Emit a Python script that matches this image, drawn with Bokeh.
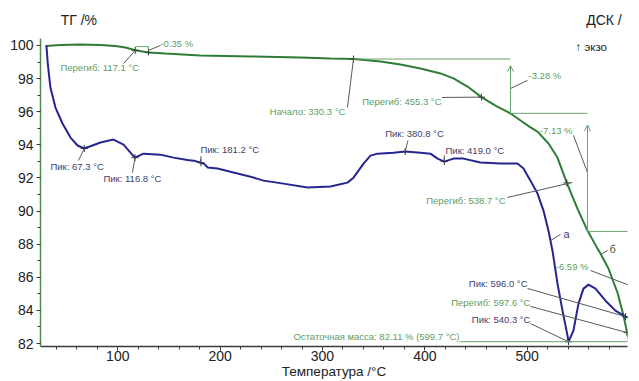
import numpy as np
from bokeh.plotting import figure
from bokeh.layouts import column
from bokeh.models import Range1d, SingleIntervalTicker, Label, Arrow, OpenHead
from bokeh.embed import file_html
from bokeh.resources import INLINE

# ---- TG curve: temperature (°C) vs. residual mass (%) ----
tg_temp = [29.4, 44.0, 63.6, 83.1, 97.8, 107.5, 117.1, 130.0, 146.6, 180.8,
           229.7, 278.5, 307.8, 330.3, 356.7, 376.2, 395.8, 415.3, 428.0, 441.7,
           455.3, 469.0, 483.7, 493.5, 503.2, 510.1, 520.8, 529.6, 538.7, 549.1,
           558.9, 568.7, 571.6, 579.4, 588.2, 594.1, 597.6, 599.7]
tg_mass = [99.97, 100.03, 100.06, 100.03, 99.97, 99.88, 99.71, 99.58, 99.52, 99.40,
           99.34, 99.27, 99.21, 99.18, 99.03, 98.85, 98.61, 98.31, 98.01, 97.52,
           96.88, 96.37, 95.89, 95.47, 95.05, 94.80, 94.08, 93.23, 91.70, 90.15,
           88.82, 87.73, 87.43, 86.53, 85.08, 83.69, 82.66, 82.11]

# ---- DSC curve (exo up), mW/mg ----
dsc_temp = [30.3, 31.6, 34.2, 39.1, 46.0, 53.8, 60.7, 67.3, 83.1, 95.8,
            105.6, 112.4, 116.8, 125.1, 141.7, 154.4, 168.1, 176.0, 181.2, 184.5,
            187.8, 197.4, 213.1, 229.7, 242.4, 261.9, 285.3, 307.8, 324.4, 330.3,
            340.1, 346.9, 353.8, 369.4, 380.8, 395.8, 405.5, 412.4, 419.0, 428.0,
            437.8, 454.4, 473.9, 490.5, 496.4, 503.2, 510.1, 515.9, 520.8, 524.7,
            529.6, 534.5, 539.4, 540.3, 545.2, 550.1, 555.0, 559.9, 566.7, 576.5,
            586.2, 596.0, 600.8]
dsc_val = [0.000, -0.109, -0.254, -0.375, -0.471, -0.556, -0.604, -0.622, -0.586, -0.568,
           -0.598, -0.647, -0.677, -0.653, -0.659, -0.677, -0.692, -0.698, -0.708, -0.715,
           -0.737, -0.743, -0.767, -0.792, -0.816, -0.834, -0.858, -0.852, -0.828, -0.798,
           -0.713, -0.665, -0.653, -0.647, -0.640, -0.647, -0.653, -0.683, -0.701, -0.683,
           -0.683, -0.707, -0.713, -0.713, -0.743, -0.816, -0.894, -0.997, -1.118, -1.239,
           -1.438, -1.601, -1.752, -1.789, -1.722, -1.559, -1.468, -1.444, -1.468, -1.541,
           -1.601, -1.637, -1.650]

# ---- evaluated points ----
dsc_peaks = [67.3, 116.8, 181.2, 380.8, 419.0, 540.3, 596.0]
tg_inflections = [117.1, 455.3, 538.7, 597.6]
tg_onset = 330.3
residual_mass = 82.11
residual_temp = 599.7

# mass steps (%) and the level each series of steps starts from
step_small = 0.35
step_small_top = 99.93
steps = [3.28, 7.13, 6.59]
steps_top = 99.18

# axis tick spacing
x_tick_step = 100
y_tick_step = 2

TG_COLOR = "#2f7d34"
DSC_COLOR = "#25258f"
TG_TEXT = "#5d9d5f"
DSC_TEXT = "#40406a"
LEADER = "#555a55"
STEP = "#6aa36c"
INK = "#222222"
FONT = "Liberation Sans"

# ---- header strip holding the two axis titles ----
head = figure(width=639, height=38, output_backend="svg", toolbar_location=None,
              x_range=Range1d(0, 639), y_range=Range1d(0, 38),
              x_axis_location=None, y_axis_location=None,
              min_border=0, min_border_left=0, min_border_right=0,
              min_border_top=0, min_border_bottom=0)
head.title.visible = False
head.outline_line_color = None
head.xgrid.visible = False
head.ygrid.visible = False
head.add_layout(Label(x=22, y=19, text="ТГ /%", text_color=INK, text_font=FONT,
                      text_font_size="14px", text_baseline="middle"))
head.add_layout(Label(x=594, y=19, text="ДСК /", text_color=INK, text_font=FONT,
                      text_font_size="14px", text_baseline="middle"))

# ---- main plot ----
p = figure(width=639, height=343, output_backend="svg", toolbar_location=None,
           x_range=Range1d(24.5, 598.0), y_range=Range1d(81.82, 100.42),
           min_border_left=40, min_border_right=12, min_border_top=0,
           min_border_bottom=35)
p.title.visible = False
p.extra_y_ranges = {"dsc": Range1d(-1.8176, 0.0423)}
p.outline_line_color = None
p.xgrid.visible = False
p.ygrid.visible = False

xa = p.xaxis[0]
xa.ticker = SingleIntervalTicker(interval=x_tick_step, num_minor_ticks=5)
xa.axis_line_color = "#3a3a3a"
xa.axis_line_width = 1.5
xa.major_tick_line_color = "#3a3a3a"
xa.minor_tick_line_color = "#3a3a3a"
xa.major_tick_out = 4
xa.major_tick_in = 0
xa.minor_tick_out = 3
xa.minor_tick_in = 0
xa.major_label_standoff = 0
xa.major_label_text_font = FONT
xa.major_label_text_font_size = "14px"
xa.major_label_text_color = INK
xa.axis_label = "Температура /°C"
xa.axis_label_standoff = 0
xa.axis_label_text_font = FONT
xa.axis_label_text_font_style = "normal"
xa.axis_label_text_font_size = "13.5px"
xa.axis_label_text_color = INK

ya = p.yaxis[0]
ya.ticker = SingleIntervalTicker(interval=y_tick_step, num_minor_ticks=2)
ya.axis_line_color = "#4a8f4c"
ya.axis_line_width = 1.5
ya.major_tick_line_color = "#3a3a3a"
ya.minor_tick_line_color = "#3a3a3a"
ya.major_tick_out = 4
ya.major_tick_in = 0
ya.minor_tick_out = 3
ya.minor_tick_in = 0
ya.major_label_standoff = 3
ya.major_label_text_font = FONT
ya.major_label_text_font_size = "14px"
ya.major_label_text_color = INK

# ---- curves ----
p.line(tg_temp, tg_mass, line_color=TG_COLOR, line_width=2)
p.line(dsc_temp, dsc_val, line_color=DSC_COLOR, line_width=2, y_range_name="dsc")


def tg_at(t):
    return float(np.interp(t, tg_temp, tg_mass))


def dsc_at(t):
    return float(np.interp(t, dsc_temp, dsc_val))


def label(x, y, text, color, align="left", size="9.5px", rng="default", baseline="middle"):
    p.add_layout(Label(x=x, y=y, text=text, text_color=color, text_font=FONT,
                       text_font_size=size, text_align=align, text_baseline=baseline,
                       y_range_name=rng))


def leader(x0, y0, x1, y1, color=LEADER, rng="default"):
    p.segment(x0=[x0], y0=[y0], x1=[x1], y1=[y1], line_color=color, line_width=1,
              y_range_name=rng)


# ---- DSC peak marks ----
p.scatter(dsc_peaks, [dsc_at(t) for t in dsc_peaks], marker="cross", size=7,
          line_color="#303050", line_width=1, y_range_name="dsc")

dsc_label_pos = {
    67.3: (34.2, -0.731, "left", 61.6, -0.694),
    116.8: (86.0, -0.803, "left", 114.4, -0.767),
    181.2: (180.8, -0.628, "left", 181.2, -0.668),
    380.8: (361.2, -0.531, "left", 383.5, -0.574),
    419.0: (420.2, -0.634, "left", 419.0, -0.662),
    596.0: (500.3, -1.437, "right", 500.3, -1.467),
    540.3: (503.2, -1.655, "right", 503.2, -1.679),
}
for t, (lx, ly, al, ax, ay) in dsc_label_pos.items():
    label(lx, ly, f"Пик: {t:.1f} °C", DSC_TEXT, align=al, rng="dsc")
    leader(ax, ay, t, dsc_at(t), rng="dsc")

# curve tags
label(535.5, -1.141, "а", DSC_TEXT, size="11px", rng="dsc")
leader(522.8, -1.178, 532.5, -1.141, rng="dsc")
label(580.4, 87.68, "б", "#3b5a3b", size="11px")
leader(571.6, 87.38, 578.4, 87.62)

# ---- TG evaluations ----
p.scatter(tg_inflections + [tg_onset], [tg_at(t) for t in tg_inflections + [tg_onset]],
          marker="cross", size=7, line_color="#304030", line_width=1)

label(44.0, 98.67, f"Перегиб: {tg_inflections[0]:.1f} °C", TG_TEXT)
leader(105.7, 98.91, tg_inflections[0], tg_at(tg_inflections[0]))
label(322.3, 96.01, f"Начало: {tg_onset:.1f} °C", TG_TEXT, align="right")
leader(324.4, 96.26, tg_onset, tg_at(tg_onset))
label(416.3, 96.62, f"Перегиб: {tg_inflections[1]:.1f} °C", TG_TEXT, align="right")
leader(416.8, 96.86, tg_inflections[1], tg_at(tg_inflections[1]))
label(478.8, 90.64, f"Перегиб: {tg_inflections[2]:.1f} °C", TG_TEXT, align="right")
leader(480.8, 90.82, 544.3, 91.73)
label(503.2, 84.48, f"Перегиб: {tg_inflections[3]:.1f} °C", TG_TEXT, align="right")
leader(503.2, 84.24, tg_inflections[3], tg_at(tg_inflections[3]))

# residual mass
label(433.9, residual_mass, f"Остаточная масса: {residual_mass:.2f} % ({residual_temp:.1f} °C)",
      TG_TEXT, align="right", baseline="bottom")
p.segment(x0=[433.9], y0=[residual_mass], x1=[605], y1=[residual_mass],
          line_color=STEP, line_width=1)

# ---- mass step brackets ----
small_bottom = step_small_top - step_small
p.segment(x0=[117.5], y0=[step_small_top], x1=[130.0], y1=[step_small_top], line_color=STEP)
p.segment(x0=[130.0], y0=[step_small_top], x1=[130.0], y1=[small_bottom - 0.15], line_color=STEP)
p.scatter([130.0], [small_bottom], marker="cross", size=6, line_color="#304030")
label(141.7, 100.12, f"-{step_small:.2f} %", TG_TEXT)
leader(130.0, 99.70, 141.7, 100.0)

levels = [steps_top]
for s in steps:
    levels.append(levels[-1] - s)
step_x = [483.7, 558.9, 620.0]
p.segment(x0=[tg_onset], y0=[levels[0]], x1=[step_x[0]], y1=[levels[0]], line_color=STEP)
p.segment(x0=[step_x[0]], y0=[levels[1]], x1=[step_x[1]], y1=[levels[1]], line_color=STEP)
p.segment(x0=[step_x[1]], y0=[levels[2]], x1=[605], y1=[levels[2]], line_color=STEP)
for i in range(2):
    p.add_layout(Arrow(end=OpenHead(size=6, line_color=STEP, line_width=1),
                       x_start=step_x[i], y_start=levels[i + 1],
                       x_end=step_x[i], y_end=levels[i] - (0.4 if i == 0 else 0.7),
                       line_color=STEP, line_width=1))

label(501.3, 98.19, f"-{steps[0]:.2f} %", TG_TEXT)
leader(500.3, 97.89, step_x[0], 97.40)
label(544.3, 94.87, f"-{steps[1]:.2f} %", TG_TEXT, align="right")
leader(545.2, 94.57, step_x[1], 92.33)
label(559.9, 86.65, f"-{steps[2]:.2f} %", TG_TEXT, align="right")
leader(561.9, 86.41, 600.0, 85.51)

label(547.2, 99.88, "↑ экзо", INK, size="11.5px")

layout = column(head, p, spacing=0)
open("out.html", "w").write(file_html(layout, INLINE))
